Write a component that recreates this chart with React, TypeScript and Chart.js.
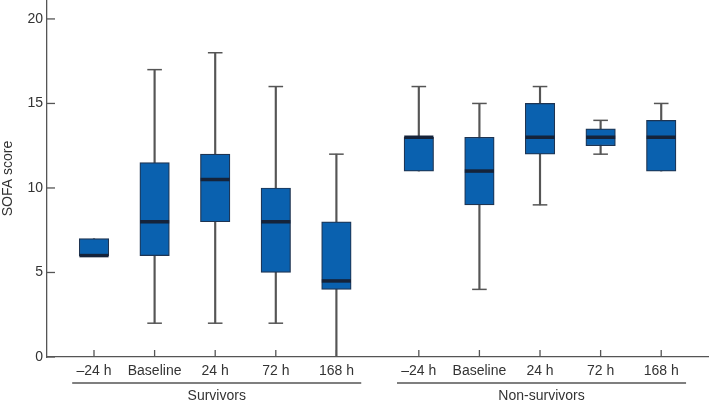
import React, { useEffect, useRef } from "react";
import { Chart, registerables } from "chart.js";

Chart.register(...registerables);

// ---- data ----
const timepoints = ["–24 h", "Baseline", "24 h", "72 h", "168 h"];
const groups = ["Survivors", "Non-survivors"];
const groupOffsets = [0, 5.36];

const survMin = [6, 2, 2, 2, 0];
const survQ1 = [6, 6, 8, 5, 4];
const survMedian = [6, 8, 10.5, 8, 4.5];
const survQ3 = [7, 11.5, 12, 10, 8];
const survMax = [7, 17, 18, 16, 12];

const nonMin = [11, 4, 9, 12, 11];
const nonQ1 = [11, 9, 12, 12.5, 11];
const nonMedian = [13, 11, 13, 13, 13];
const nonQ3 = [13, 13, 15, 13.5, 14];
const nonMax = [16, 15, 16, 14, 15];

const yTicks = [0, 5, 10, 15, 20];

const stats = [
  { min: survMin, q1: survQ1, med: survMedian, q3: survQ3, max: survMax },
  { min: nonMin, q1: nonQ1, med: nonMedian, q3: nonQ3, max: nonMax },
];

const FONT = "'Liberation Sans', Arial, Helvetica, sans-serif";
const TEXT = "#333333";
const AXIS = "#555555";

export default function App() {
  const ref = useRef<HTMLCanvasElement | null>(null);

  useEffect(() => {
    document.body.style.margin = "0";
    const positions: number[] = [];
    const labelAt: Record<string, string> = {};
    const boxes: any[] = [];
    const whiskers: any[] = [];
    const medians: any[] = [];
    const caps: any[] = [];
    stats.forEach((s, g) => {
      timepoints.forEach((t, i) => {
        const x = groupOffsets[g] + i;
        positions.push(x);
        labelAt[x.toFixed(2)] = t;
        boxes.push({ x, y: [s.q1[i], s.q3[i]] });
        whiskers.push({ x, y: [s.min[i], s.max[i]] });
        medians.push({ x, y: s.med[i] });
        if (s.max[i] > s.q3[i]) caps.push({ x, y: s.max[i] });
        if (s.min[i] < s.q1[i]) caps.push({ x, y: s.min[i] });
      });
    });

    const pxPerUnit = 60.6;
    const xMin = -(94 - 47) / pxPerUnit;
    const xMax = xMin + (709 - 47) / pxPerUnit;

    const decor = {
      id: "decor",
      afterDraw(chart: any) {
        const ctx = chart.ctx;
        const xs = chart.scales.x;
        const ys = chart.scales.y;
        const area = chart.chartArea;
        ctx.save();
        ctx.strokeStyle = AXIS;
        ctx.lineWidth = 1.3;
        // inward y ticks
        yTicks.forEach((v) => {
          const py = ys.getPixelForValue(v);
          ctx.beginPath();
          ctx.moveTo(area.left, py);
          ctx.lineTo(area.left + 8, py);
          ctx.stroke();
        });
        // inward x ticks
        positions.forEach((v) => {
          const px = xs.getPixelForValue(v);
          ctx.beginPath();
          ctx.moveTo(px, area.bottom);
          ctx.lineTo(px, area.bottom - 7);
          ctx.stroke();
        });
        // group lines & labels
        ctx.fillStyle = TEXT;
        ctx.font = `14px ${FONT}`;
        ctx.textAlign = "center";
        ctx.textBaseline = "middle";
        groups.forEach((name, g) => {
          const x0 = xs.getPixelForValue(groupOffsets[g] - 0.36);
          const x1 = xs.getPixelForValue(groupOffsets[g] + timepoints.length - 1 + 0.41);
          ctx.beginPath();
          ctx.moveTo(x0, 383);
          ctx.lineTo(x1, 383);
          ctx.stroke();
          ctx.fillText(name, (x0 + x1) / 2, 396);
        });
        ctx.restore();
      },
    };

    const chart = new Chart(ref.current as HTMLCanvasElement, {
      type: "bar",
      data: {
        datasets: [
          {
            type: "line",
            data: medians,
            showLine: false,
            pointStyle: "line",
            pointRadius: 14.6,
            pointBorderWidth: 3.5,
            borderColor: "#15233a",
            backgroundColor: "#15233a",
            order: 0,
          } as any,
          {
            type: "line",
            data: caps,
            showLine: false,
            pointStyle: "line",
            pointRadius: 7.3,
            pointBorderWidth: 1.5,
            borderColor: AXIS,
            backgroundColor: AXIS,
            order: 1,
          } as any,
          {
            type: "bar",
            data: boxes,
            backgroundColor: "#0a61af",
            borderColor: "#1e3452",
            borderWidth: 1.2,
            borderSkipped: false,
            barThickness: 29.5,
            grouped: false,
            order: 2,
          } as any,
          {
            type: "bar",
            data: whiskers,
            backgroundColor: AXIS,
            borderWidth: 0,
            barThickness: 1.5,
            grouped: false,
            order: 3,
          } as any,
        ],
      },
      options: {
        responsive: false,
        animation: false,
        devicePixelRatio: 1,
        layout: { autoPadding: false, padding: { top: 0, right: 0, bottom: 0, left: 0 } },
        plugins: { legend: { display: false }, tooltip: { enabled: false } },
        scales: {
          x: {
            type: "linear",
            min: xMin,
            max: xMax,
            offset: false,
            grid: { display: false, drawTicks: false },
            border: { display: true, color: AXIS, width: 1.3 },
            afterBuildTicks: (scale: any) => {
              scale.ticks = positions.map((v) => ({ value: v }));
            },
            afterFit: (scale: any) => {
              scale.height = 47;
              scale.paddingLeft = 0;
              scale.paddingRight = 0;
              scale.paddingTop = 0;
              scale.paddingBottom = 0;
            },
            ticks: {
              autoSkip: false,
              maxRotation: 0,
              padding: 6,
              color: TEXT,
              font: { family: FONT, size: 14 },
              callback: (v: any) => labelAt[Number(v).toFixed(2)] ?? "",
            },
          },
          y: {
            type: "linear",
            min: 0,
            max: 21.12,
            grid: { display: false, drawTicks: false },
            border: { display: true, color: AXIS, width: 1.3 },
            afterBuildTicks: (scale: any) => {
              scale.ticks = yTicks.map((v) => ({ value: v }));
            },
            afterFit: (scale: any) => {
              scale.width = 47;
              scale.paddingLeft = 0;
              scale.paddingRight = 0;
              scale.paddingTop = 0;
              scale.paddingBottom = 0;
            },
            title: {
              display: true,
              text: "SOFA score",
              color: TEXT,
              font: { family: FONT, size: 14 },
              padding: 0,
            },
            ticks: {
              padding: 4,
              color: TEXT,
              font: { family: FONT, size: 14 },
            },
          },
        },
      },
      plugins: [decor],
    } as any);
    return () => chart.destroy();
  }, []);

  return (
    <div style={{ width: 709, height: 404, background: "#fff" }}>
      <canvas ref={ref} width={709} height={404} />
    </div>
  );
}
